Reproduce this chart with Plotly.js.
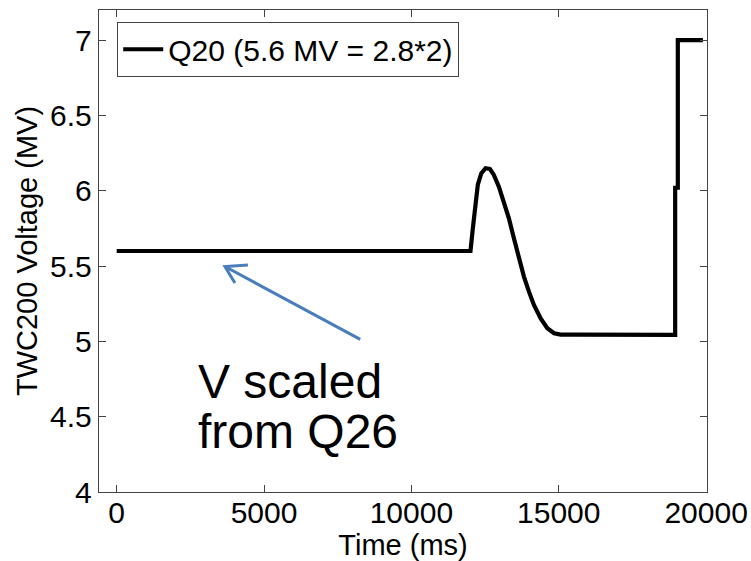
<!DOCTYPE html>
<html>
<head>
<meta charset="utf-8">
<script src="https://cdn.plot.ly/plotly-3.0.1.min.js"></script>
<style>html,body{margin:0;padding:0;background:#fff;}#chart{width:751px;height:561px;}</style>
</head>
<body>
<div id="chart"></div>
<script>
// Data
const timeMs = [0, 12005, 12084, 12166, 12254, 12370, 12517, 12662, 12798, 12968, 13138, 13308, 13478, 13648, 13818, 13988, 14158, 14386, 14613, 14840, 15066, 15520, 18950, 18950, 19040, 19040, 19890];
const voltageMV = [5.6, 5.6, 5.75, 5.905, 6.04, 6.115, 6.15, 6.145, 6.105, 6.027, 5.928, 5.817, 5.684, 5.551, 5.43, 5.33, 5.242, 5.153, 5.087, 5.054, 5.045, 5.045, 5.043, 6.02, 6.02, 7.0, 7.0];
const seriesName = 'Q20 (5.6 MV = 2.8*2)';
const xTicks = [0, 5000, 10000, 15000, 20000];
const xTickText = ['0', '5000', '10000', '15000', '20000'];
const yTicks = [4, 4.5, 5, 5.5, 6, 6.5, 7];
const yTickText = ['4', '4.5', '5', '5.5', '6', '6.5', '7'];
const noteLines = ['V scaled', 'from Q26'];
// arrow: tail -> head (data coordinates)
const arrowTail = [8264, 5.013];
const arrowHead = [3673, 5.497];

const FONT = 'Arial, "Liberation Sans", sans-serif';

const trace = {
  x: timeMs, y: voltageMV, type: 'scatter', mode: 'lines',
  name: seriesName,
  line: {color: '#000000', width: 4.2}
};

const pxX = 5000 / 147.3, pxY = 1 / 150.6;
const wing1 = [arrowHead[0] + 23 * pxX, arrowHead[1] + 1.5 * pxY];
const wing2 = [arrowHead[0] + 10 * pxX, arrowHead[1] - 16.5 * pxY];

const layout = {
  width: 751, height: 561,
  margin: {l: 99, r: 44, t: 10, b: 69},
  paper_bgcolor: '#ffffff', plot_bgcolor: '#ffffff',
  font: {family: FONT, color: '#000000', size: 30},
  showlegend: true,
  legend: {
    x: 0.0296, y: 0.975, xanchor: 'left', yanchor: 'top',
    bgcolor: '#ffffff', bordercolor: '#444444', borderwidth: 1.2,
    font: {family: FONT, size: 30, color: '#000000'},
    itemwidth: 40
  },
  xaxis: {
    range: [-600, 20030],
    tickmode: 'array', tickvals: xTicks, ticktext: xTickText,
    ticks: 'inside', ticklen: 7, tickwidth: 1, tickcolor: '#444444',
    ticklabelstandoff: -6,
    showline: true, linecolor: '#444444', linewidth: 1.2, mirror: 'ticks',
    showgrid: false, zeroline: false,
    tickfont: {family: FONT, size: 30, color: '#000000'},
    title: {text: 'Time (ms)', font: {family: FONT, size: 29, color: '#000000'}, standoff: 0}
  },
  yaxis: {
    range: [4, 7.2],
    tickmode: 'array', tickvals: yTicks, ticktext: yTickText,
    ticks: 'inside', ticklen: 7, tickwidth: 1, tickcolor: '#444444',
    showline: true, linecolor: '#444444', linewidth: 1.2, mirror: 'ticks',
    showgrid: false, zeroline: false,
    tickfont: {family: FONT, size: 30, color: '#000000'},
    title: {text: 'TWC200 Voltage (MV)', font: {family: FONT, size: 29, color: '#000000'}, standoff: 4}
  },
  shapes: [
    {type: 'path', xref: 'x', yref: 'y',
     path: `M${arrowTail[0]},${arrowTail[1]} L${arrowHead[0]},${arrowHead[1]} M${wing1[0]},${wing1[1]} L${arrowHead[0]},${arrowHead[1]} L${wing2[0]},${wing2[1]}`,
     line: {color: '#4a7ebb', width: 3}}
  ],
  annotations: [
    {xref: 'x', yref: 'y', x: 2700, y: 7 - (381 - 40) / 150.6, text: noteLines[0], showarrow: false,
     xanchor: 'left', yanchor: 'middle', font: {family: FONT, size: 48, color: '#000000'}},
    {xref: 'x', yref: 'y', x: 2700, y: 7 - (431 - 40) / 150.6, text: noteLines[1], showarrow: false,
     xanchor: 'left', yanchor: 'middle', font: {family: FONT, size: 48, color: '#000000'}}
  ]
};

Plotly.newPlot('chart', [trace], layout, {displayModeBar: false, staticPlot: true});
</script>
</body>
</html>
